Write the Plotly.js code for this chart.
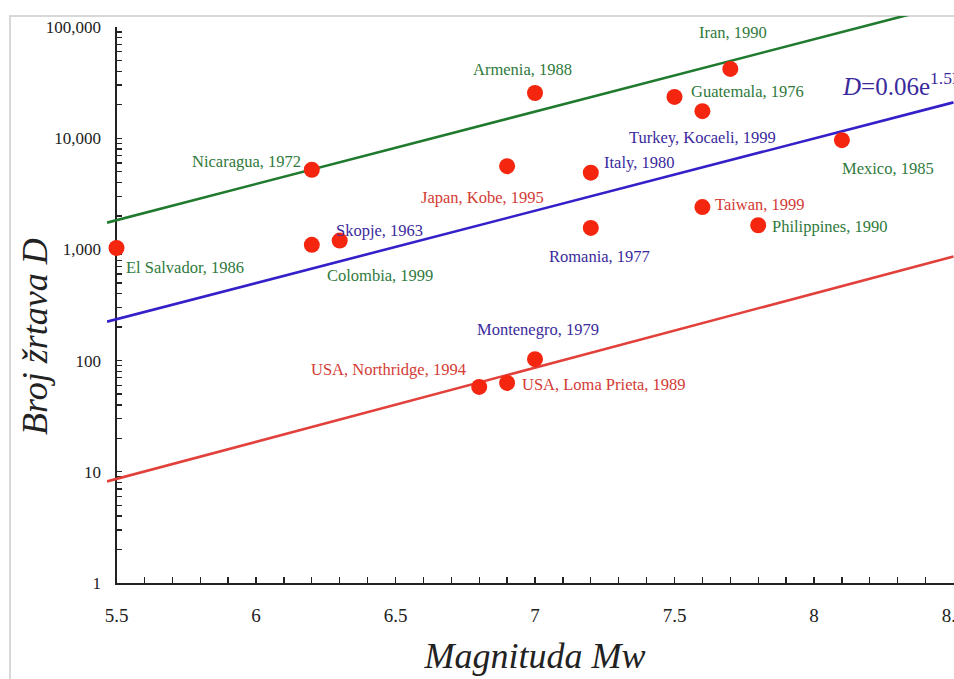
<!DOCTYPE html>
<html>
<head>
<meta charset="utf-8">
<script src="https://cdn.plot.ly/plotly-3.0.1.min.js"></script>
<style>html,body{margin:0;padding:0;background:#fff;}#chart{width:954px;height:679px;}</style>
</head>
<body>
<div id="chart"></div>
<script>
// ---- data ----
const labels = ['El Salvador, 1986','Nicaragua, 1972','Colombia, 1999','Skopje, 1963','Armenia, 1988',
  'Japan, Kobe, 1995','Italy, 1980','Romania, 1977','Guatemala, 1976','Turkey, Kocaeli, 1999',
  'Iran, 1990','Mexico, 1985','Taiwan, 1999','Philippines, 1990','Montenegro, 1979',
  'USA, Northridge, 1994','USA, Loma Prieta, 1989'];
const magnitudes = [5.5, 6.2, 6.2, 6.3, 7.0, 6.9, 7.2, 7.2, 7.5, 7.6, 7.7, 8.1, 7.6, 7.8, 7.0, 6.8, 6.9];
const deaths = [1030, 5200, 1100, 1200, 25500, 5600, 4900, 1560, 23500, 17500, 42000, 9600, 2400, 1650, 103, 58, 63];

// fitted lines (endpoints)
const lineM = [5.466, 8.5];
const greenFit = [1740, 164000];
const blueFit = [224, 21000];
const redFit = [8.2, 865];

const yDecades = [1, 10, 100, 1000, 10000, 100000];
const yDecadeLabels = ['1', '10', '100', '1,000', '10,000', '100,000'];
const xTickVals = [5.5, 6, 6.5, 7, 7.5, 8, 8.5];
const xTickLabels = ['5.5', '6', '6.5', '7', '7.5', '8', '8.5'];
const formulaText = '<i>D</i>=0.06e<sup>1.5M</sup>';
const xTitle = 'Magnituda Mw';
const yTitle = 'Broj žrtava D';

// ---- styles / placement (not data) ----
const labelGroup = ['g','g','g','b','g','r','b','b','g','b','g','g','r','g','b','r','r'];
const labelShift = [[68,-20],[-65,8],[68,-31],[40,10],[-13,23],[-25,-31],[48,10],[9,-29],[73,5],[0,-26],
  [3,36],[46,-28],[58,3],[72,-1],[3,30],[-91,17],[97,-2]];
const groupColor = {g: '#2f7a3c', r: '#d33b35', b: '#3a2a9c'};
const FONT = 'Liberation Serif, Times New Roman, serif';

// layout geometry
const L = 107, R = 0, T = 16, B = 96, W = 954, H = 679;
const pw = W - L - R, ph = H - T - B;
const pxPerM = 279, pxPerDec = 111.2;
const xDomMain = [(116.5 - L) / pw, (953.5 - L) / pw];
const yDomMain = [0, (583 - 27) / ph];
const x2Range = [5.5 - (116.5 - L) / pxPerM, 5.5 + (W - R - 116.5) / pxPerM];
const y2Range = [0, ph / pxPerDec];

// y tick values (decades + minor 2..9)
const yTickVals = [], yTickText = [];
yDecades.forEach((d, i) => {
  yTickVals.push(d); yTickText.push(yDecadeLabels[i]);
  if (d < 100000) for (let k = 2; k <= 9; k++) { yTickVals.push(d * k); yTickText.push(' '); }
});

const traces = [
  {x: [], y: [], xaxis: 'x', yaxis: 'y', type: 'scatter', mode: 'markers', showlegend: false, hoverinfo: 'skip'},
  {x: lineM, y: greenFit, xaxis: 'x2', yaxis: 'y2', type: 'scatter', mode: 'lines',
   line: {color: '#1f7a2e', width: 2.6}, showlegend: false, hoverinfo: 'skip'},
  {x: lineM, y: blueFit, xaxis: 'x2', yaxis: 'y2', type: 'scatter', mode: 'lines',
   line: {color: '#3420c8', width: 2.6}, showlegend: false, hoverinfo: 'skip'},
  {x: lineM, y: redFit, xaxis: 'x2', yaxis: 'y2', type: 'scatter', mode: 'lines',
   line: {color: '#e2403a', width: 2.6}, showlegend: false, hoverinfo: 'skip'},
  {x: magnitudes, y: deaths, xaxis: 'x2', yaxis: 'y2', type: 'scatter', mode: 'markers',
   marker: {color: '#f5260f', size: 16, line: {width: 0}}, text: labels, showlegend: false}
];

const annotations = labels.map((t, i) => ({
  xref: 'x2', yref: 'y2', x: magnitudes[i], y: Math.log10(deaths[i]),
  text: t, showarrow: false, xanchor: 'center', yanchor: 'middle',
  xshift: labelShift[i][0], yshift: labelShift[i][1],
  font: {family: FONT, size: 16.5, color: groupColor[labelGroup[i]]}
}));
annotations.push({
  xref: 'x2', yref: 'y2', x: 5.5 + (840 - 116.5) / pxPerM, y: (583 - 84) / pxPerDec,
  text: formulaText, showarrow: false, xanchor: 'left', yanchor: 'middle',
  font: {family: FONT, size: 25, color: '#3a2a9c'}
});
// y-axis title (placed as rotated text to match the reference's offset)
annotations.push({
  xref: 'paper', yref: 'paper', x: (35 - L) / pw, y: 1 - (337 - T) / ph,
  text: yTitle, textangle: -90, showarrow: false, xanchor: 'center', yanchor: 'middle',
  font: {family: FONT, size: 36, color: '#222', style: 'italic'}
});

const axisLine = {showline: true, linecolor: '#222', linewidth: 2, mirror: false, zeroline: false, showgrid: false};

const layout = {
  width: W, height: H,
  margin: {l: L, r: R, t: T, b: B},
  paper_bgcolor: '#ffffff', plot_bgcolor: 'rgba(0,0,0,0)',
  showlegend: false,
  font: {family: FONT, color: '#111'},
  xaxis: Object.assign({}, axisLine, {
    domain: xDomMain, range: [5.5, 8.5], anchor: 'y',
    tickmode: 'array', tickvals: xTickVals, ticktext: xTickLabels,
    ticks: 'inside', ticklen: 6, tickwidth: 1.3, tickcolor: '#222',
    minor: {dtick: 0.1, tick0: 5.5, ticks: 'inside', ticklen: 6, tickwidth: 1.3, tickcolor: '#222', showgrid: false},
    ticklabelstandoff: 14, ticklabeloverflow: 'allow',
    tickfont: {family: FONT, size: 19, color: '#222'},
    title: {text: xTitle, font: {family: FONT, size: 36, color: '#222', style: 'italic'}, standoff: 18}
  }),
  yaxis: Object.assign({}, axisLine, {
    domain: yDomMain, type: 'log', range: [0, 5], anchor: 'x',
    tickmode: 'array', tickvals: yTickVals, ticktext: yTickText,
    ticks: 'inside', ticklen: 5, tickwidth: 1.3, tickcolor: '#222',
    ticklabelstandoff: 10,
    tickfont: {family: FONT, size: 17, color: '#222'}
  }),
  xaxis2: {domain: [0, 1], range: x2Range, anchor: 'y2', visible: false, showgrid: false, zeroline: false},
  yaxis2: {domain: [0, 1], range: y2Range, type: 'log', anchor: 'x2', visible: false, showgrid: false, zeroline: false},
  annotations: annotations,
  shapes: [{
    type: 'rect', xref: 'paper', yref: 'paper',
    x0: (10 - L) / pw, x1: 1.05, y0: -0.5, y1: 1,
    line: {color: '#d8d8d8', width: 2}, fillcolor: 'rgba(0,0,0,0)', layer: 'below'
  }]
};

Plotly.newPlot('chart', traces, layout, {displayModeBar: false, staticPlot: true});
</script>
</body>
</html>
